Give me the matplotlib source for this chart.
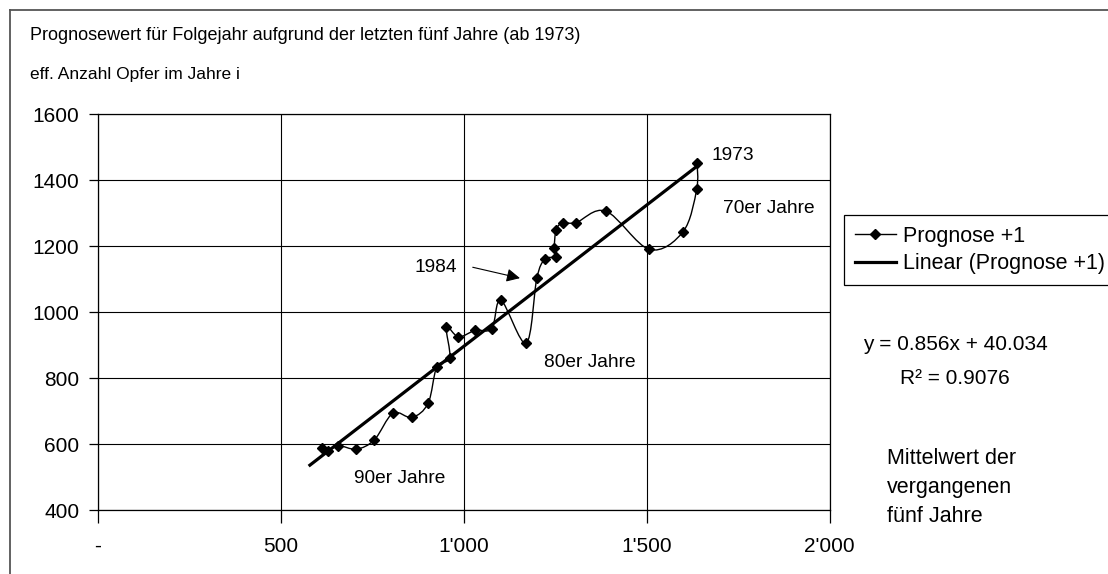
import numpy as np
import matplotlib
matplotlib.use("Agg")
import matplotlib.pyplot as plt
from matplotlib.path import Path
from matplotlib.patches import PathPatch
from matplotlib.lines import Line2D

plt.rcParams['font.family'] = ['Liberation Sans', 'DejaVu Sans']

# mean of the past five years (x) and forecast for next year (y), 1973 .. 2000
mean_5y = [1638, 1637, 1600, 1508, 1389, 1307, 1271, 1253, 1248, 1253, 1222, 1200, 1171, 1102,
           1077, 1032, 986, 953, 962, 927, 903, 859, 807, 756, 707, 657, 630, 612]
forecast = [1453, 1372, 1244, 1190, 1306, 1271, 1271, 1249, 1195, 1168, 1160, 1102, 906, 1036,
            950, 945, 925, 955, 861, 835, 724, 681, 694, 613, 585, 596, 580, 588]

slope, intercept = 0.856, 40.034
r2 = 0.9076
trend_range = [580, 1638]

x_ticks = [0, 500, 1000, 1500, 2000]
x_ticklabels = ['-', '500', "1'000", "1'500", "2'000"]
y_ticks = [400, 600, 800, 1000, 1200, 1400, 1600]

W, H = 1108, 574
fig = plt.figure(figsize=(W / 100, H / 100), dpi=100)
ax = fig.add_axes([97.7 / W, 1 - 510.2 / H, (829.5 - 97.7) / W, (510.2 - 114.1) / H])


def smooth_path(xs, ys):
    # bezier curve through the points, like the smoothed line in excel
    pts = np.column_stack([xs, ys]).astype(float)
    n = len(pts)
    verts = [pts[0]]
    codes = [Path.MOVETO]
    for i in range(n - 1):
        p0 = pts[i - 1] if i > 0 else pts[i]
        p1, p2 = pts[i], pts[i + 1]
        p3 = pts[i + 2] if i + 2 < n else pts[i + 1]
        verts += [p1 + (p2 - p0) / 6, p2 - (p3 - p1) / 6, p2]
        codes += [Path.CURVE4] * 3
    return Path(verts, codes)


ax.add_patch(PathPatch(smooth_path(mean_5y, forecast), fill=False, lw=1.0, edgecolor='black', zorder=3))
ax.plot(mean_5y, forecast, ls='none', marker='D', ms=5.5, color='black', zorder=4)

tx = np.array(trend_range)
ax.plot(tx, slope * tx + intercept, color='black', lw=2.3, zorder=3)

ax.set_xlim(0, 2000)
ax.set_ylim(400, 1600)
ax.set_xticks(x_ticks)
ax.set_xticklabels(x_ticklabels)
ax.set_yticks(y_ticks)
ax.grid(True, color='black', lw=0.8)
ax.set_axisbelow(True)
for s in ax.spines.values():
    s.set_linewidth(0.9)
ax.tick_params(axis='x', direction='out', length=9, width=0.9, pad=10, labelsize=15)
ax.tick_params(axis='y', direction='out', length=6.3, width=0.9, pad=7, labelsize=15)

# annotations
txt = dict(fontsize=13.8, va='center', ha='left')
ax.text(1678, 1476, '1973', **txt)
ax.text(1709, 1315, '70er Jahre', **txt)
ax.text(1220, 848, '80er Jahre', **txt)
ax.text(701, 496, '90er Jahre', **txt)
ax.annotate('', xy=(1154, 1103), xytext=(1025, 1136),
            arrowprops=dict(arrowstyle='-|>', color='black', lw=0.8, mutation_scale=20,
                            shrinkA=0, shrinkB=0))
ax.text(867, 1136, '1984', **txt)

fig.text(30 / W, 1 - 36 / H, 'Prognosewert für Folgejahr aufgrund der letzten fünf Jahre (ab 1973)',
         fontsize=13, va='center', ha='left')
fig.text(30 / W, 1 - 75 / H, 'eff. Anzahl Opfer im Jahre i', fontsize=12.5, va='center', ha='left')

fig.text(955 / W, 1 - 345 / H, f'y = {slope}x + {intercept}', fontsize=15, va='center', ha='center')
fig.text(955 / W, 1 - 378 / H, f'R² = {r2}', fontsize=15, va='center', ha='center')
for i, line in enumerate(['Mittelwert der', 'vergangenen', 'fünf Jahre']):
    fig.text(887 / W, 1 - (458 + 29.5 * i) / H, line, fontsize=15.5, va='center', ha='left')

handles = [Line2D([], [], color='black', lw=1.0, marker='D', ms=5),
           Line2D([], [], color='black', lw=2.3)]
leg = fig.legend(handles, ['Prognose +1', 'Linear (Prognose +1)'], loc='upper left',
                 bbox_to_anchor=(844 / W, 1 - 215 / H), borderaxespad=0, fontsize=15.5,
                 frameon=True, fancybox=False, edgecolor='black', framealpha=1,
                 handlelength=1.9, handletextpad=0.35, labelspacing=0.3, borderpad=0.5)
leg.get_frame().set_linewidth(0.9)

# chart area border (top and left edges visible)
border = dict(color='#555555', lw=1.3, transform=fig.transFigure)
fig.add_artist(Line2D([10 / W, 1], [1 - 10 / H, 1 - 10 / H], **border))
fig.add_artist(Line2D([10 / W, 10 / W], [0, 1 - 10 / H], **border))

fig.savefig('out.png', dpi=100)
